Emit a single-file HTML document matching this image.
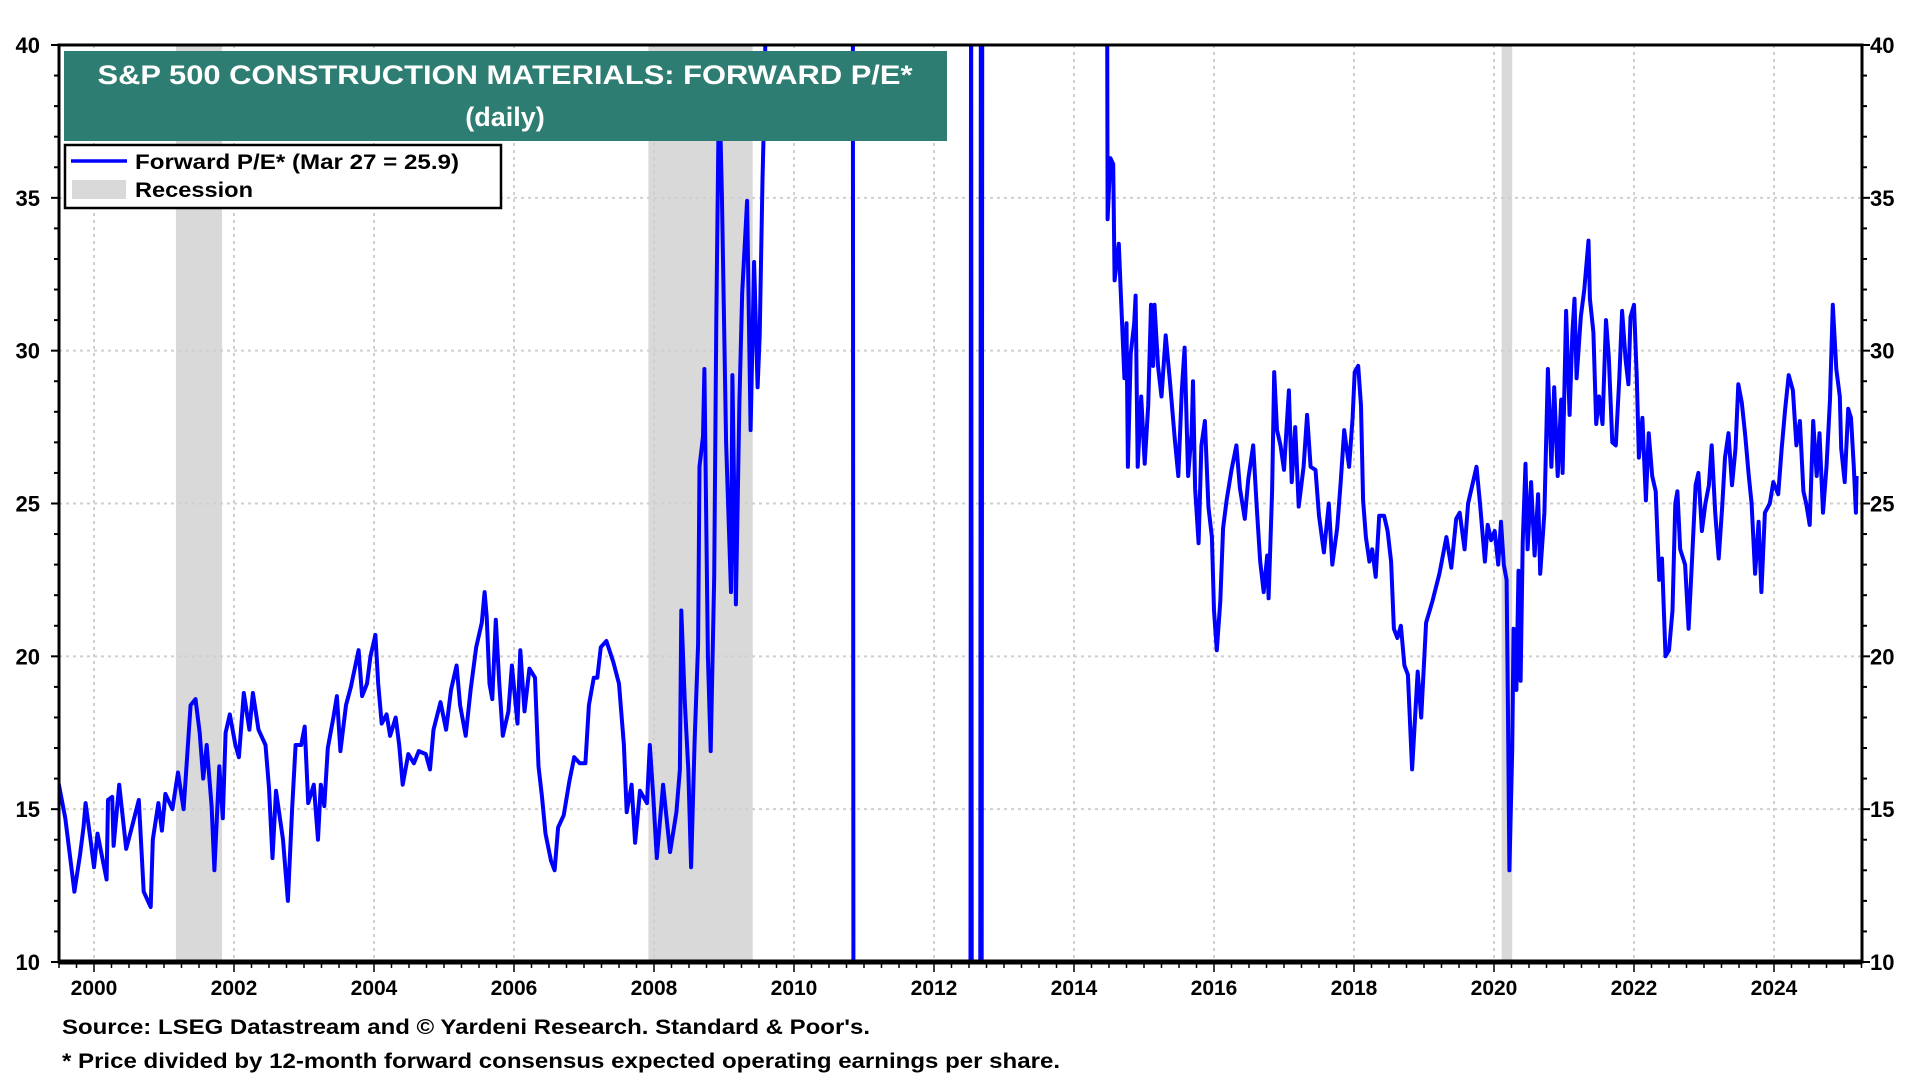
<!DOCTYPE html>
<html>
<head>
<meta charset="utf-8">
<style>
  html,body{margin:0;padding:0;background:#fff;}
  body{width:1920px;height:1080px;overflow:hidden;font-family:"Liberation Sans",Arial,sans-serif;}
  svg{display:block;}
  text{font-family:"Liberation Sans",Arial,sans-serif;font-weight:bold;}
</style>
</head>
<body>
<svg id="chart" width="1920" height="1080" viewBox="0 0 1920 1080" xmlns="http://www.w3.org/2000/svg">
  <defs>
    <clipPath id="plotclip"><rect x="59" y="45" width="1803" height="917"/></clipPath>
  </defs>
  <g id="recessions"></g>
  <g id="grid"></g>
  <g id="series" clip-path="url(#plotclip)"></g>
  <g id="axes"></g>

  <g>
    <rect x="64" y="51" width="883" height="90" fill="#2e7d72"/>
    <text x="505" y="84" text-anchor="middle" fill="#fff" font-size="27" textLength="815" lengthAdjust="spacingAndGlyphs">S&amp;P 500 CONSTRUCTION MATERIALS: FORWARD P/E*</text>
    <text x="505" y="126" text-anchor="middle" fill="#fff" font-size="27">(daily)</text>
  </g>
  <g>
    <rect x="65" y="145" width="436" height="63" fill="#fff" stroke="#000" stroke-width="2.5"/>
    <line x1="71" y1="161" x2="127" y2="161" stroke="#0000ff" stroke-width="3.5"/>
    <text x="135" y="169" font-size="21" fill="#000" textLength="324" lengthAdjust="spacingAndGlyphs">Forward P/E* (Mar 27 = 25.9)</text>
    <rect x="72" y="180" width="54" height="19" fill="#d9d9d9"/>
    <text x="135" y="197" font-size="21" fill="#000" textLength="118" lengthAdjust="spacingAndGlyphs">Recession</text>
  </g>
  <text x="62" y="1034" font-size="21" fill="#000" textLength="808" lengthAdjust="spacingAndGlyphs">Source: LSEG Datastream and © Yardeni Research. Standard &amp; Poor's.</text>
  <text x="62" y="1068" font-size="21" fill="#000" textLength="998" lengthAdjust="spacingAndGlyphs">* Price divided by 12-month forward consensus expected operating earnings per share.</text>
</svg>
<script>
const yTicks = [10, 15, 20, 25, 30, 35, 40];
const xTickYears = [2000, 2002, 2004, 2006, 2008, 2010, 2012, 2014, 2016, 2018, 2020, 2022, 2024];
const recessionStart = [2001.17, 2007.92, 2020.11];
const recessionEnd = [2001.83, 2009.41, 2020.26];

const dates = [
1999.44,1999.59,1999.72,1999.80,1999.85,1999.88,1999.95,2000.00,2000.05,2000.18,2000.20,2000.26,2000.28,2000.36,2000.46,2000.54,2000.64,2000.71,2000.81,2000.84,2000.92,2000.97,2001.02,2001.12,2001.20,2001.28,2001.38,2001.45,2001.51,2001.56,2001.61,2001.68,2001.72,2001.79,2001.84,2001.88,2001.94,2002.02,2002.07,2002.14,2002.22,2002.27,2002.35,2002.45,2002.50,2002.55,2002.60,2002.70,2002.77,2002.83,2002.88,2002.96,2003.01,2003.06,2003.14,2003.20,2003.24,2003.29,2003.34,2003.42,2003.47,2003.52,2003.60,2003.67,2003.78,2003.83,2003.90,2003.95,2004.02,2004.06,2004.11,2004.18,2004.23,2004.31,2004.36,2004.41,2004.49,2004.57,2004.64,2004.74,2004.80,2004.85,2004.95,2005.03,2005.10,2005.18,2005.23,2005.31,2005.38,2005.46,2005.54,2005.58,2005.61,2005.65,2005.69,2005.74,2005.79,2005.84,2005.92,2005.97,2006.05,2006.09,2006.15,2006.22,2006.30,2006.35,2006.40,2006.45,2006.53,2006.58,2006.63,2006.71,2006.79,2006.86,2006.94,2007.02,2007.07,2007.14,2007.19,2007.24,2007.32,
2007.42,2007.50,2007.57,2007.61,2007.68,2007.73,2007.80,2007.90,2007.94,2007.99,2008.04,2008.13,2008.23,2008.32,2008.37,2008.39,2008.44,2008.49,2008.53,2008.58,2008.63,2008.65,2008.70,2008.72,2008.77,2008.81,2008.86,2008.89,2008.93,2008.97,2009.03,2009.10,2009.12,2009.17,2009.22,2009.26,2009.33,2009.38,2009.43,2009.48,2009.51,2009.55,2009.58,
2009.62,2010.84,2010.85,2012.52,2012.53,2012.54,2012.66,2012.67,2012.68,2012.69,2014.47,
2014.48,2014.52,2014.56,2014.58,2014.64,2014.67,2014.72,2014.75,2014.77,2014.81,2014.86,2014.88,2014.91,2014.96,2015.01,2015.06,2015.10,2015.13,2015.15,2015.20,2015.25,2015.31,2015.37,2015.44,2015.49,2015.54,2015.58,2015.63,2015.68,2015.70,2015.73,2015.78,2015.82,2015.87,2015.92,2015.97,2016.00,2016.04,2016.09,2016.13,2016.18,2016.25,2016.32,2016.37,2016.44,2016.49,2016.56,2016.61,2016.66,2016.71,2016.76,2016.78,2016.83,2016.86,2016.90,2016.95,2017.00,2017.07,2017.11,2017.16,2017.21,2017.28,2017.33,2017.38,2017.45,2017.50,2017.57,2017.64,2017.69,2017.76,2017.81,2017.86,2017.93,2017.98,2018.01,2018.06,2018.10,2018.13,2018.17,2018.22,2018.26,2018.31,2018.36,2018.43,2018.48,2018.53,2018.57,2018.62,2018.67,2018.72,2018.77,2018.83,2018.91,2018.96,2019.03,2019.12,2019.22,2019.32,2019.39,2019.46,2019.51,2019.58,2019.63,
2019.75,2019.80,2019.87,2019.91,2019.96,2020.01,2020.06,2020.10,2020.14,2020.18,2020.20,2020.22,2020.26,2020.28,2020.32,2020.35,2020.38,2020.41,2020.45,2020.48,2020.53,2020.58,2020.63,2020.66,2020.72,2020.77,2020.82,2020.86,2020.91,2020.96,2020.98,2021.03,2021.08,2021.12,2021.15,2021.18,2021.24,2021.29,2021.35,2021.37,2021.42,2021.46,2021.50,2021.55,2021.60,2021.64,2021.69,2021.74,2021.79,2021.83,2021.88,2021.92,2021.95,2022.00,2022.04,2022.07,2022.12,2022.17,2022.21,2022.26,2022.31,2022.36,2022.40,2022.45,2022.50,2022.55,2022.59,2022.62,2022.66,2022.73,2022.78,2022.83,2022.88,2022.92,2022.97,2023.02,2023.07,2023.11,2023.16,2023.21,2023.26,2023.30,2023.35,2023.40,2023.45,2023.49,2023.54,2023.59,2023.64,2023.68,2023.73,2023.78,2023.82,2023.87,2023.94,2023.99,2024.06,2024.11,2024.16,2024.21,2024.27,2024.32,2024.37,2024.42,2024.46,2024.51,2024.56,2024.61,2024.65,2024.70,2024.75,2024.80,2024.84,2024.89,2024.94,2024.96,2025.01,2025.06,2025.10,2025.14,2025.17,2025.18
];
const peValues = [
16.5,14.7,12.3,13.5,14.4,15.2,14.0,13.1,14.2,12.7,15.3,15.4,13.8,15.8,13.7,14.4,15.3,12.3,11.8,14.0,15.2,14.3,15.5,15.0,16.2,15.0,18.4,18.6,17.5,16.0,17.1,15.1,13.0,16.4,14.7,17.5,18.1,17.1,16.7,18.8,17.6,18.8,17.6,17.1,15.7,13.4,15.6,14.0,12.0,15.0,17.1,17.1,17.7,15.2,15.8,14.0,15.8,15.1,17.0,18.0,18.7,16.9,18.4,19.0,20.2,18.7,19.1,20.0,20.7,19.1,17.8,18.1,17.4,18.0,17.1,15.8,16.8,16.5,16.9,16.8,16.3,17.6,18.5,17.6,18.9,19.7,18.4,17.4,18.9,20.3,21.1,22.1,21.3,19.1,18.6,21.2,19.1,17.4,18.2,19.7,17.8,20.2,18.2,19.6,19.3,16.4,15.4,14.2,13.3,13.0,14.4,14.8,15.9,16.7,16.5,16.5,18.4,19.3,19.3,20.3,20.5,
19.8,19.1,17.1,14.9,15.8,13.9,15.6,15.2,17.1,15.4,13.4,15.8,13.6,14.9,16.3,21.5,18.5,16.3,13.1,17.2,20.4,26.2,27.2,29.4,20.0,16.9,22.6,31.0,39.0,35.1,27.0,22.1,29.2,21.7,28.3,31.9,34.9,27.4,32.9,28.8,30.5,35.6,38.4,
45,45,5,5,45,5,5,45,5,45,45,
34.3,36.3,36.1,32.3,33.5,31.8,29.1,30.9,26.2,29.9,30.9,31.8,26.2,28.5,26.3,28.2,31.5,29.5,31.5,29.5,28.5,30.5,29.0,27.1,25.9,28.7,30.1,25.9,27.3,29.0,25.5,23.7,26.9,27.7,24.9,23.9,21.5,20.2,21.8,24.2,25.1,26.1,26.9,25.5,24.5,25.8,26.9,24.9,23.1,22.1,23.3,21.9,25.4,29.3,27.4,26.9,26.1,28.7,25.7,27.5,24.9,26.2,27.9,26.2,26.1,24.6,23.4,25.0,23.0,24.2,25.7,27.4,26.2,27.8,29.3,29.5,28.2,25.1,23.9,23.1,23.5,22.6,24.6,24.6,24.1,23.1,20.9,20.6,21.0,19.7,19.4,16.3,19.5,18.0,21.1,21.8,22.7,23.9,22.9,24.5,24.7,23.5,25.0,
26.2,25.0,23.1,24.3,23.8,24.1,23.0,24.4,23.0,22.5,18.1,13.0,16.9,20.9,18.9,22.8,19.2,23.7,26.3,23.5,25.7,23.3,25.3,22.7,24.7,29.4,26.2,28.8,25.9,28.4,26.0,31.3,27.9,30.6,31.7,29.1,31.1,32.0,33.6,31.7,30.6,27.6,28.5,27.6,31.0,29.8,27.0,26.9,29.1,31.3,29.7,28.9,31.1,31.5,29.1,26.5,27.8,25.1,27.3,25.9,25.4,22.5,23.2,20.0,20.2,21.5,25.0,25.4,23.5,23.0,20.9,23.2,25.6,26.0,24.1,25.0,25.6,26.9,24.7,23.2,24.9,26.5,27.3,25.6,26.8,28.9,28.3,27.2,25.9,25.0,22.7,24.4,22.1,24.7,25.0,25.7,25.3,26.8,28.1,29.2,28.7,26.9,27.7,25.4,25.0,24.3,27.7,25.9,27.3,24.7,26.2,28.4,31.5,29.4,28.5,26.8,25.7,28.1,27.8,26.2,24.7,25.9
];

const NS = "http://www.w3.org/2000/svg";
const X0 = 94, PX_PER_YEAR = 70, PLOT_L = 59, PLOT_R = 1862, PLOT_T = 45, PLOT_B = 962;
const Y_MIN = 10, Y_MAX = 40;
function xScale(yr){ return X0 + (yr - 2000) * PX_PER_YEAR; }
function yScale(v){ return PLOT_B - (v - Y_MIN) / (Y_MAX - Y_MIN) * (PLOT_B - PLOT_T); }
function mk(tag, attrs, parent){
  const el = document.createElementNS(NS, tag);
  for (const k in attrs) el.setAttribute(k, attrs[k]);
  parent.appendChild(el);
  return el;
}

const gRec = document.getElementById('recessions');
for (let i = 0; i < recessionStart.length; i++){
  const r = mk('rect', {x: xScale(recessionStart[i]), y: PLOT_T, width: xScale(recessionEnd[i]) - xScale(recessionStart[i]), height: PLOT_B - PLOT_T, fill: '#d9d9d9'}, gRec);
  
  
}

const gGrid = document.getElementById('grid');
yTicks.forEach(v => {
  if (v === Y_MIN || v === Y_MAX) return;
  const l = mk('line', {x1: PLOT_L, x2: PLOT_R, y1: yScale(v), y2: yScale(v), stroke: '#cfcfcf', 'stroke-width': 2, 'stroke-dasharray': '3,4'}, gGrid);
  
  
});
xTickYears.forEach(yr => {
  const l = mk('line', {x1: xScale(yr), x2: xScale(yr), y1: PLOT_T, y2: PLOT_B, stroke: '#cfcfcf', 'stroke-width': 2, 'stroke-dasharray': '3,4'}, gGrid);
  
  
});

const gS = document.getElementById('series');
let d = '';
for (let i = 0; i < dates.length; i++){
  d += (i ? 'L' : 'M') + xScale(dates[i]).toFixed(1) + ',' + yScale(peValues[i]).toFixed(1);
}
const path = mk('path', {d: d, fill: 'none', stroke: '#0000ff', 'stroke-width': 4, 'stroke-linejoin': 'round'}, gS);



const gA = document.getElementById('axes');
const frame = mk('rect', {x: PLOT_L, y: PLOT_T, width: PLOT_R - PLOT_L, height: PLOT_B - PLOT_T, fill: 'none', stroke: '#000', 'stroke-width': 3}, gA);


const base = mk('line', {x1: PLOT_L, x2: PLOT_R, y1: PLOT_B, y2: PLOT_B, stroke: '#000', 'stroke-width': 5}, gA);


for (let v = Y_MIN; v <= Y_MAX; v++){
  const len = (v % 5 === 0) ? 8 : 5;
  const tl = mk('line', {x1: PLOT_L - len, x2: PLOT_L, y1: yScale(v), y2: yScale(v), stroke: '#000', 'stroke-width': 2}, gA);
  
  
  const tr = mk('line', {x1: PLOT_R, x2: PLOT_R + len, y1: yScale(v), y2: yScale(v), stroke: '#000', 'stroke-width': 2}, gA);
  
  
}
yTicks.forEach(v => {
  const a = mk('text', {x: 40, y: yScale(v) + 8, 'text-anchor': 'end', 'font-size': 22, fill: '#000'}, gA);
  a.textContent = v;
  
  
  const b = mk('text', {x: 1870, y: yScale(v) + 8, 'text-anchor': 'start', 'font-size': 22, fill: '#000'}, gA);
  b.textContent = v;
  
  
});
for (let q = 1999.5; q <= 2025.26; q += 0.25){
  const major = Math.abs(q - Math.round(q)) < 0.01 && Math.round(q) % 2 === 0;
  const t = mk('line', {x1: xScale(q), x2: xScale(q), y1: PLOT_B, y2: PLOT_B + (major ? 10 : 6), stroke: '#000', 'stroke-width': 1.5}, gA);
  
  
}
xTickYears.forEach(yr => {
  const t = mk('text', {x: xScale(yr), y: 995, 'text-anchor': 'middle', 'font-size': 21, fill: '#000'}, gA);
  t.textContent = yr;
  
  
});
</script>
</body>
</html>
